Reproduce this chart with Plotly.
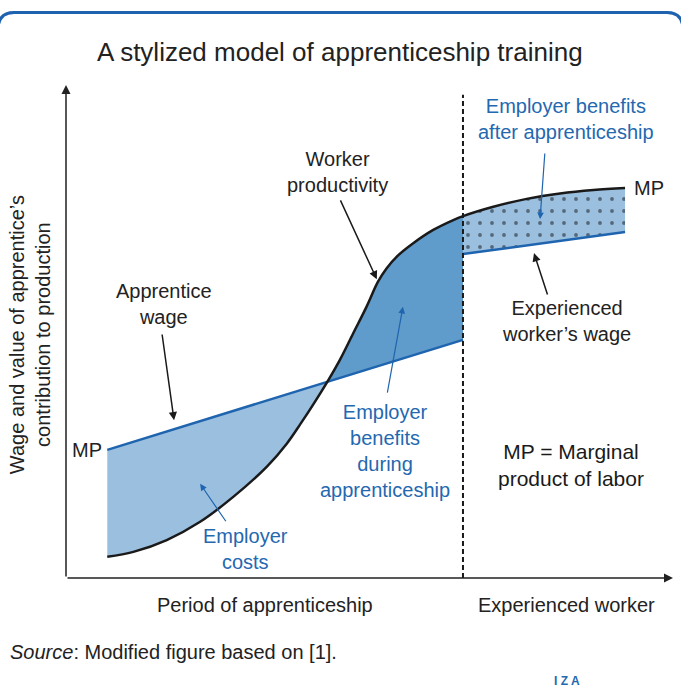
import plotly.graph_objects as go

# ---- data (stylized values) ----
prod_x = [6.8, 11.1, 16.6, 22.1, 27.6, 33.1, 36.4, 38.6, 43.0, 45.1, 47.3, 49.5, 51.4, 52.8,
          54.5, 57.2, 60.5, 63.8, 65.4, 70.4, 75.9, 81.4, 86.9, 92.1]
productivity = [4.3, 5.3, 7.7, 11.4, 16.5, 22.6, 27.3, 31.2, 39.7, 44.2, 49.6, 55.0, 60.1, 62.8,
                65.2, 67.9, 70.6, 72.6, 73.4, 75.3, 76.9, 78.0, 78.7, 79.1]

wage_x = [6.8, 43.0, 65.4]
apprentice_wage = [26.0, 39.7, 48.3]

exp_x = [65.4, 92.1]
experienced_wage = [65.7, 70.2]

end_of_apprenticeship = 65.4

FONT = "Liberation Sans, Arial, sans-serif"
BLUE_LINE = "#1f64ae"
BLUE_TEXT = "#2468b0"
LIGHT = "#9bbfdf"
DARK = "#5f9bcb"
BLACK = "#1a1a1a"
SMOOTH = 1.0

i_cross = prod_x.index(43.0)
i_end = prod_x.index(end_of_apprenticeship)

fig = go.Figure()

# Employer costs region
fig.add_trace(go.Scatter(x=wage_x[:2], y=apprentice_wage[:2], mode="lines",
                         line=dict(width=0), hoverinfo="skip", showlegend=False))
fig.add_trace(go.Scatter(x=prod_x[:i_cross + 1], y=productivity[:i_cross + 1], mode="lines",
                         line=dict(width=0, shape="spline", smoothing=SMOOTH), fill="tonexty",
                         fillcolor=LIGHT, hoverinfo="skip", showlegend=False))
# Employer benefits during apprenticeship
fig.add_trace(go.Scatter(x=wage_x[1:], y=apprentice_wage[1:], mode="lines",
                         line=dict(width=0), hoverinfo="skip", showlegend=False))
fig.add_trace(go.Scatter(x=prod_x[i_cross:i_end + 1], y=productivity[i_cross:i_end + 1], mode="lines",
                         line=dict(width=0, shape="spline", smoothing=SMOOTH), fill="tonexty",
                         fillcolor=DARK, hoverinfo="skip", showlegend=False))
# Employer benefits after apprenticeship (dotted)
fig.add_trace(go.Scatter(x=exp_x, y=experienced_wage, mode="lines",
                         line=dict(width=0), hoverinfo="skip", showlegend=False))
fig.add_trace(go.Scatter(x=prod_x[i_end:], y=productivity[i_end:], mode="lines",
                         line=dict(width=0, shape="spline", smoothing=SMOOTH), fill="tonexty",
                         fillcolor=LIGHT,
                         fillpattern=dict(shape=".", fgcolor="#111111", bgcolor=LIGHT,
                                          size=12, solidity=0.08, fillmode="overlay"),
                         hoverinfo="skip", showlegend=False))

# Lines
fig.add_trace(go.Scatter(x=wage_x, y=apprentice_wage, mode="lines",
                         line=dict(color=BLUE_LINE, width=2.5), hoverinfo="skip", showlegend=False))
fig.add_trace(go.Scatter(x=exp_x, y=experienced_wage, mode="lines",
                         line=dict(color=BLUE_LINE, width=2.5), hoverinfo="skip", showlegend=False))
fig.add_trace(go.Scatter(x=prod_x, y=productivity, mode="lines",
                         line=dict(color=BLACK, width=2.5, shape="spline", smoothing=SMOOTH),
                         hoverinfo="skip", showlegend=False))

# dashed separator
fig.add_shape(type="line", x0=end_of_apprenticeship, x1=end_of_apprenticeship, y0=0, y1=98,
              xref="x", yref="y", line=dict(color=BLACK, width=2, dash="5px,3px"))

annotations = []

def arrow(x, y, ax, ay, color=BLACK, width=1.5, size=1.1):
    annotations.append(dict(x=x, y=y, ax=ax, ay=ay, xref="x", yref="y", axref="x", ayref="y",
                            text="", showarrow=True, arrowhead=2, arrowsize=size,
                            arrowwidth=width, arrowcolor=color, standoff=0, startstandoff=0))

def label(x, y, text, color="#222222", size=20, xanchor="center", xref="x", yref="y", **kw):
    annotations.append(dict(x=x, y=y, xref=xref, yref=yref, text=text, showarrow=False,
                            xanchor=xanchor, yanchor="middle",
                            font=dict(family=FONT, size=size, color=color), **kw))

# axes
arrow(100, 0, 0, 0, color="#222222", width=1.5, size=1.2)
arrow(0, 100, 0, 0, color="#222222", width=1.5, size=1.2)

# text + arrows
label(44.8, 82.4, "Worker<br>productivity")
arrow(51.2, 60.6, 45.1, 76.9)
label(16.1, 55.6, "Apprentice<br>wage")
arrow(17.8, 32.0, 15.8, 49.7)
label(52.6, 25.8, "Employer<br>benefits<br>during<br>apprenticeship", color=BLUE_TEXT)
arrow(55.5, 55.0, 52.9, 37.3, color=BLUE_LINE, width=1.2)
label(29.5, 5.9, "Employer<br>costs", color=BLUE_TEXT)
arrow(22.1, 19.1, 26.5, 11.2, color=BLUE_LINE, width=1.2)
label(82.4, 93.1, "Employer benefits<br>after apprenticeship", color=BLUE_TEXT)
arrow(78.1, 72.8, 78.9, 86.4, color=BLUE_LINE, width=1.2)
label(82.4, 52.1, "Experienced<br>worker’s wage")
arrow(77.1, 65.9, 79.4, 57.2)
label(83.2, 22.9, "MP = Marginal<br>product of labor", size=21, color="#1a1a1a")
label(6.3, 26.0, "MP", xanchor="right")
label(93.2, 79.1, "MP", xanchor="left")

# paper-level texts
label(0.328, -0.0548, "Period of apprenticeship", xref="paper", yref="paper")
label(0.824, -0.0548, "Experienced worker", xref="paper", yref="paper")
label(-0.059, 0.493, "Wage and value of apprentice’s<br>contribution to production",
      xref="paper", yref="paper", textangle=-90)
label(0.451, 1.067, "A stylized model of apprenticeship training", size=26,
      xref="paper", yref="paper")
label(-0.0956, -0.150, "<i>Source</i>: Modified figure based on [1].", xanchor="left",
      xref="paper", yref="paper")
label(0.825, -0.209, "<b>I Z A</b>", size=12, color=BLUE_TEXT, xref="paper", yref="paper")

# frame at top (rounded)
def px(p):
    return (p - 66) / 607
def py(p):
    return (578 - p) / 493

path = (f"M {px(-2)},{py(28)} Q {px(-1)},{py(12.5)} {px(14)},{py(12.5)} "
        f"L {px(667)},{py(12.5)} Q {px(682)},{py(12.5)} {px(683)},{py(28)}")
fig.add_shape(type="path", path=path, xref="paper", yref="paper",
              line=dict(color="#1f63b0", width=3))

fig.update_layout(
    width=681, height=689,
    margin=dict(l=66, r=8, t=85, b=111),
    paper_bgcolor="white", plot_bgcolor="white",
    xaxis=dict(range=[0, 100], visible=False, fixedrange=True),
    yaxis=dict(range=[0, 100], visible=False, fixedrange=True),
    annotations=annotations,
    showlegend=False,
)

fig.write_html("out.html", config={"displayModeBar": False},
               post_script="document.body.style.margin='0px';")
